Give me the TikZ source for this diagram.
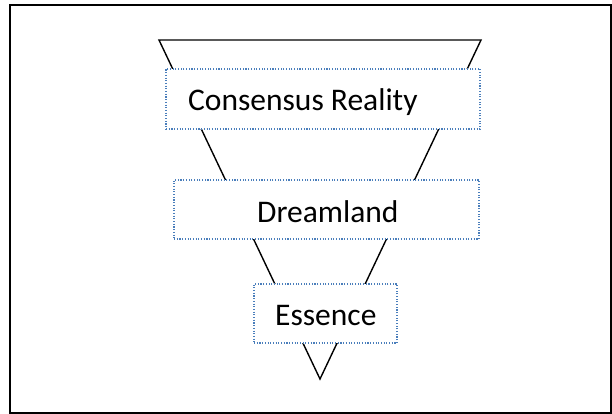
\documentclass[tikz,border=0pt]{standalone}
\usepackage{fontspec}
\setmainfont{Carlito}
\definecolor{dotblue}{HTML}{4A7EBB}
\begin{document}
\begin{tikzpicture}[x=1pt,y=-1pt,
  frameline/.style={draw=black,line width=2pt},
  funnel/.style={draw=black,line width=1.4pt,line join=miter},
  layerbox/.style={draw=dotblue,fill=white,line width=1.1pt,
    dash pattern=on 1.1pt off 1.6pt,inner sep=0pt},
  layertext/.style={anchor=base west,inner sep=0pt,
    font=\fontsize{31.5}{36}\selectfont}]
\useasboundingbox (0,0) rectangle (612,414);
% outer frame
\draw[frameline] (10,5.5) rectangle (611,413);
% funnel outline
\coordinate (tl) at (159,40);
\coordinate (tr) at (481,40);
\coordinate (apex) at (320,379);
\draw[funnel] (tl) -- (tr) -- (apex) -- cycle;
% layer boxes
\node[layerbox,minimum width=314pt,minimum height=60pt] (b1) at (323,99) {};
\node[layerbox,minimum width=305pt,minimum height=59pt] (b2) at (326.5,209.5) {};
\node[layerbox,minimum width=143pt,minimum height=59pt] (b3) at (325.5,313.5) {};
% layer labels
\node[layertext] (t1) at (188,110.5) {Consensus Reality};
\node[layertext] (t2) at (257,222) {Dreamland};
\node[layertext] (t3) at (275,325) {Essence};
\end{tikzpicture}
\end{document}
